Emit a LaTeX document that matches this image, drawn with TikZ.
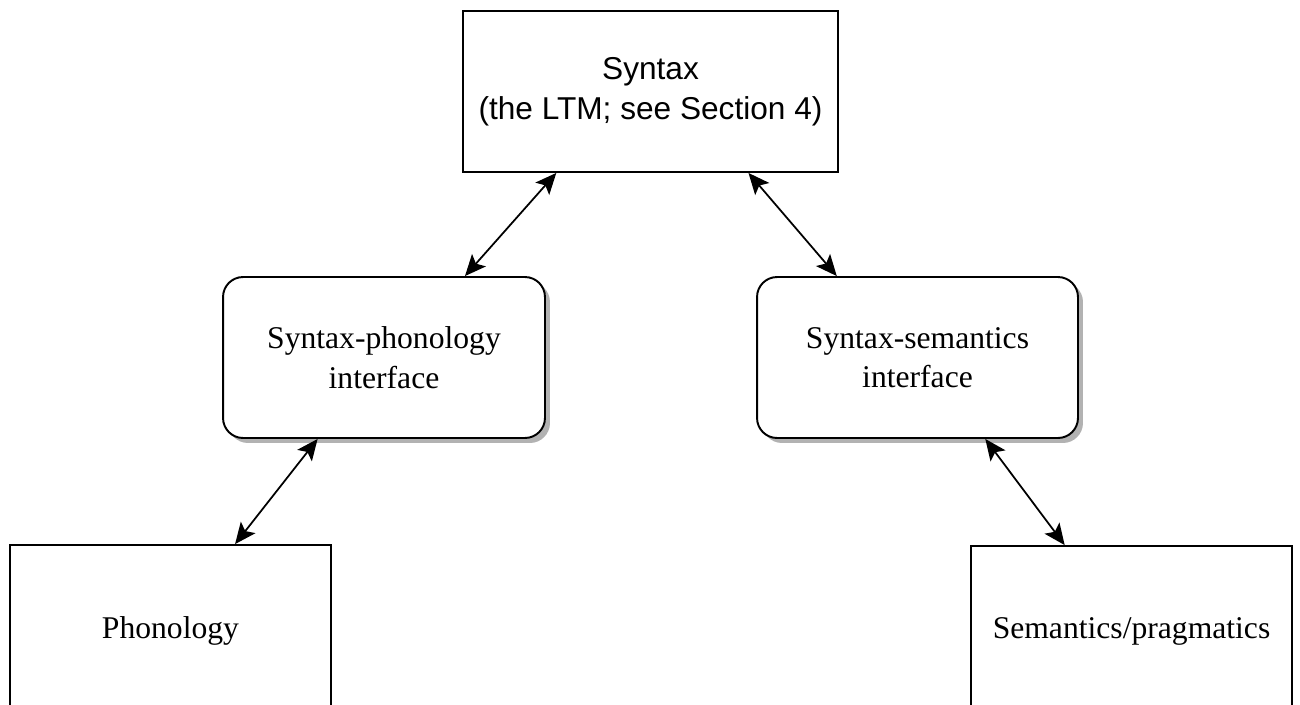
\documentclass[tikz,border=0pt]{standalone}
\usepackage{fontspec}
\setmainfont{Liberation Serif}
\newfontfamily\arialfont{Liberation Sans}
\usetikzlibrary{arrows.meta,calc,shadows}
\begin{document}
\begin{tikzpicture}[x=0.02cm,y=-0.02cm,
  box/.style={draw=black, line width=1.1pt, fill=white, minimum height=3.22cm,
    align=center, font=\fontsize{18}{22.5}\selectfont, inner sep=0pt},
  rbox/.style={box, rounded corners=0.4cm,
    drop shadow={shadow xshift=0.1cm, shadow yshift=-0.1cm, fill=black!30, opacity=1}},
  link/.style={{Stealth[length=12pt,width=10.5pt,inset=2.6pt]}-{Stealth[length=12pt,width=10.5pt,inset=2.6pt]},
    line width=1pt}]
\useasboundingbox (0,0) rectangle (1300,704);

\node[box, minimum width=7.5cm, font=\arialfont\fontsize{18}{22.5}\selectfont]
  (syn) at (650.5,91.5) {Syntax\\(the LTM; see Section 4)};
\node[rbox, minimum width=6.44cm] (spi) at (384,357.5) {Syntax-phonology\\interface};
\node[rbox, minimum width=6.42cm] (ssi) at (917.5,357.5) {Syntax-semantics\\interface};
\node[box, minimum width=6.42cm, minimum height=3.42cm] (pho) at (170.5,630.5) {Phonology};
\node[box, minimum width=6.42cm, minimum height=3.42cm] (sem) at (1131.5,631.5) {Semantics/pragmatics};

\draw[link] ($(syn.south west)!0.25!(syn.south east)$) -- ($(spi.north west)!0.75!(spi.north east)$);
\draw[link] ($(syn.south west)!0.76!(syn.south east)$) -- ($(ssi.north west)!0.25!(ssi.north east)$);
\draw[link] ($(spi.south west)!0.295!(spi.south east)$) -- ($(pho.north west)!0.70!(pho.north east)$);
\draw[link] ($(ssi.south west)!0.71!(ssi.south east)$) -- ($(sem.north west)!0.293!(sem.north east)$);
\end{tikzpicture}
\end{document}
